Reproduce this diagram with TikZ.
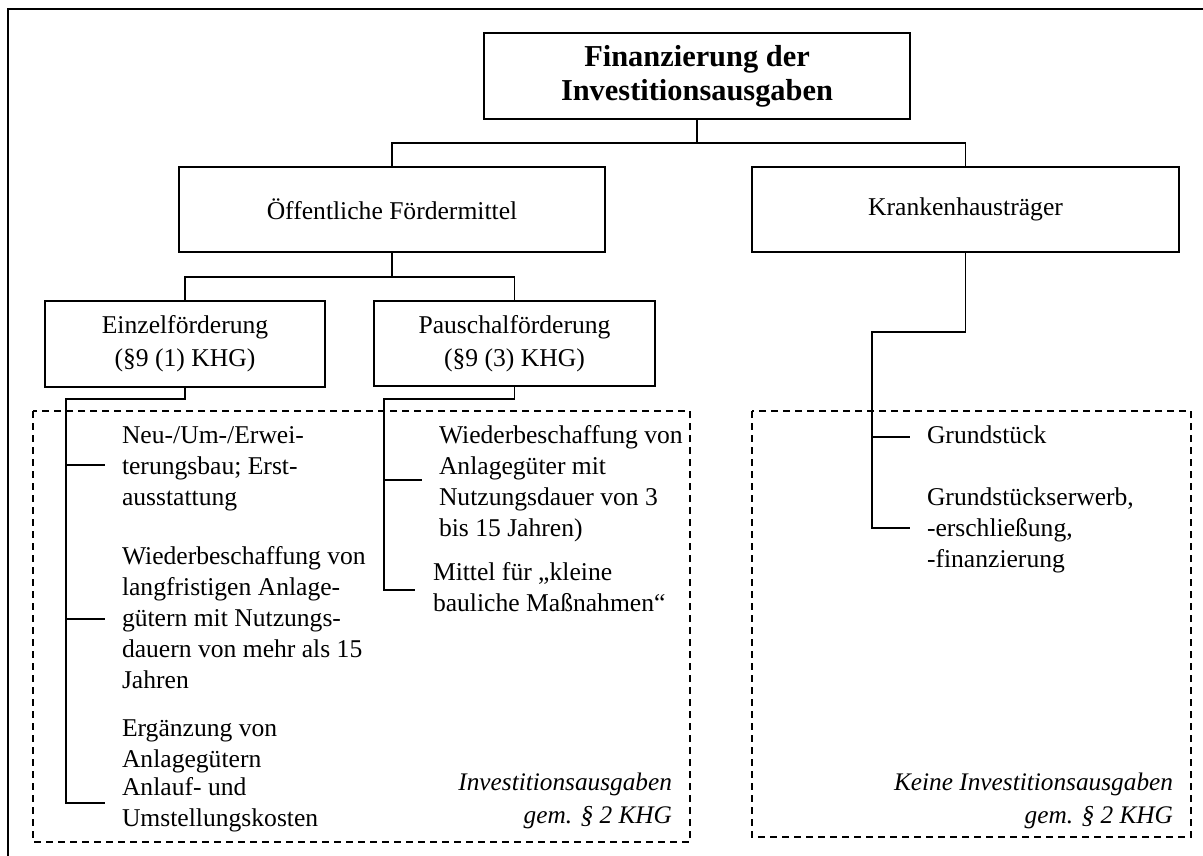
\documentclass[tikz,border=0pt]{standalone}
\usepackage{fontspec}
\setmainfont{Liberation Serif}
\usetikzlibrary{calc}
\begin{document}
\begin{tikzpicture}[x=1pt,y=-1pt,
  every node/.style={inner sep=0pt, outer sep=0pt},
  boxnode/.style={draw, line width=1.4pt, align=center,
    font=\fontsize{25.6}{33}\selectfont},
  itemtext/.style={anchor=base west, align=left,
    font=\fontsize{25.6}{31}\selectfont},
  notetext/.style={anchor=base east, align=right,
    font=\fontsize{25.3}{33}\selectfont\itshape},
  link/.style={line width=1.3pt},
  trunk/.style={line width=2pt},
  zone/.style={line width=1.2pt, dash pattern=on 7pt off 5pt}]
\clip (0,0) rectangle (1203,856);
\fill[white] (0,0) rectangle (1203,856);
% outer frame (runs past the page on the right and bottom)
\draw[line width=1.4pt] (8,9) rectangle (1240,900);

% dashed zones
\draw[zone] (33,411) rectangle (690,842);
\draw[zone] (752,411) rectangle (1191,837);

% boxes
\node[boxnode, minimum width=426pt, minimum height=86pt,
  font=\fontsize{30.4}{34}\selectfont\bfseries] (top) at (697,76)
  {Finanzierung der\\Investitionsausgaben};
\node[boxnode, minimum width=426pt, minimum height=85pt] (oef) at (392,209.5)
  {Öffentliche Fördermittel};
\node[boxnode, minimum width=427pt, minimum height=85pt] (kh) at (965.5,209.5)
  {Krankenhausträger};
\node[boxnode, minimum width=280pt, minimum height=86pt] (ein) at (185,344)
  {Einzelförderung\\(§9 (1) KHG)};
\node[boxnode, minimum width=281pt, minimum height=85pt] (pau) at (514.5,343.5)
  {Pauschalförderung\\(§9 (3) KHG)};

% junctions
\coordinate (j1) at (697,143);
\coordinate (j2) at (392,277);
\draw[link] (top.south) -- (j1);
\draw[link] (oef.north) |- (j1) -| (kh.north);
\draw[link] (oef.south) -- (j2);
\draw[link] (ein.north) |- (j2) -| (pau.north);

% Einzelförderung items (node positions give the baseline of the last line)
\coordinate (e0) at (66,399);
\coordinate (e1) at (66,465);
\coordinate (e2) at (66,619);
\coordinate (e3) at (66,803);
\coordinate (eb1) at (105,465);
\coordinate (eb2) at (105,619);
\coordinate (eb3) at (105,803);
\draw[trunk] (ein.south) |- (e0) -- (e3) -- (eb3);
\draw[link] (e1) -- (eb1);
\draw[link] (e2) -- (eb2);
\node[itemtext] (l1) at (122,505) {Neu-/Um-/Erwei-\\terungsbau; Erst-\\ausstattung};
\node[itemtext] (l2) at (122,688) {Wiederbeschaffung von\\langfristigen Anlage-\\gütern mit Nutzungs-\\dauern von mehr als 15\\Jahren};
\node[itemtext] (l3) at (122,767) {Ergänzung von\\Anlagegütern};
\node[itemtext] (l4) at (122,826) {Anlauf- und\\Umstellungskosten};

% Pauschalförderung items
\coordinate (p0) at (384,399);
\coordinate (p1) at (384,480);
\coordinate (p2) at (384,590);
\coordinate (pb1) at (422,480);
\coordinate (pb2) at (415,590);
\draw[link] (pau.south) |- (p0) -- (p2) -- (pb2);
\draw[link] (p1) -- (pb1);
\node[itemtext] (q1) at (439,536) {Wiederbeschaffung von\\Anlagegüter mit\\Nutzungsdauer von 3\\bis 15 Jahren)};
\node[itemtext] (q2) at (433,611) {Mittel für „kleine\\bauliche Maßnahmen“};

% Krankenhausträger items
\coordinate (k0) at (872,332);
\coordinate (k1) at (872,437);
\coordinate (k2) at (872,528);
\coordinate (kb1) at (910,437);
\coordinate (kb2) at (910,528);
\draw[link] (kh.south) |- (k0) -- (k2) -- (kb2);
\draw[link] (k1) -- (kb1);
\node[itemtext] (g1) at (927,443) {Grundstück};
\node[itemtext] (g2) at (927,567) {Grundstückserwerb,\\-erschließung,\\-finanzierung};

% zone notes
\node[notetext] (n1) at (672,823) {Investitionsausgaben\\gem. § 2 KHG};
\node[notetext] (n2) at (1173,823) {Keine Investitionsausgaben\\gem. § 2 KHG};
\end{tikzpicture}
\end{document}
